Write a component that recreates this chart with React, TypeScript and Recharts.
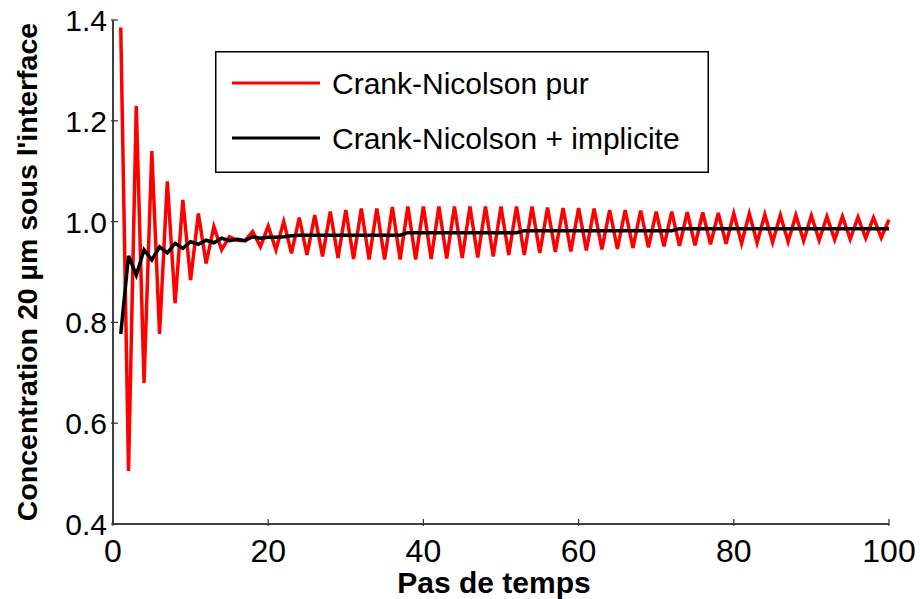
import { Legend, Line, LineChart, XAxis, YAxis } from 'recharts'

// Concentration à 20 µm sous l'interface : Crank-Nicolson pur (oscillant) vs Crank-Nicolson + pas implicites.
const pasDeTemps = Array.from({ length: 100 }, (_, i) => i + 1)

const cnPur = [
  1.385, 0.505, 1.23, 0.68, 1.14, 0.777, 1.08, 0.838, 1.043, 0.884,
  1.016, 0.917, 0.99, 0.944, 0.97, 0.963, 0.962, 0.98, 0.95, 0.991,
  0.944, 1.0, 0.937, 1.008, 0.934, 1.013, 0.931, 1.02, 0.928, 1.023,
  0.926, 1.026, 0.925, 1.026, 0.925, 1.029, 0.925, 1.03, 0.925, 1.03,
  0.926, 1.03, 0.927, 1.03, 0.928, 1.03, 0.929, 1.03, 0.931, 1.03,
  0.934, 1.03, 0.934, 1.03, 0.938, 1.028, 0.94, 1.027, 0.941, 1.027,
  0.943, 1.026, 0.945, 1.023, 0.946, 1.023, 0.948, 1.022, 0.949, 1.02,
  0.951, 1.02, 0.952, 1.019, 0.953, 1.018, 0.955, 1.017, 0.956, 1.016,
  0.957, 1.016, 0.958, 1.014, 0.959, 1.013, 0.96, 1.013, 0.962, 1.012,
  0.963, 1.01, 0.964, 1.01, 0.965, 1.009, 0.967, 1.008, 0.968, 1.004,
]

const cnImplicite = [
  0.777, 0.932, 0.894, 0.944, 0.924, 0.95, 0.938, 0.957, 0.947, 0.96,
  0.955, 0.963, 0.958, 0.967, 0.962, 0.965, 0.962, 0.97, 0.967, 0.969,
  0.969, 0.97, 0.972, 0.973, 0.973, 0.973, 0.973, 0.973, 0.973, 0.973,
  0.973, 0.973, 0.973, 0.973, 0.973, 0.973, 0.973, 0.978, 0.978, 0.978,
  0.978, 0.978, 0.978, 0.978, 0.978, 0.978, 0.978, 0.978, 0.978, 0.978,
  0.978, 0.978, 0.982, 0.982, 0.982, 0.982, 0.982, 0.982, 0.982, 0.982,
  0.982, 0.982, 0.982, 0.982, 0.982, 0.982, 0.982, 0.982, 0.982, 0.982,
  0.982, 0.982, 0.986, 0.986, 0.986, 0.986, 0.986, 0.986, 0.986, 0.986,
  0.986, 0.986, 0.986, 0.986, 0.986, 0.986, 0.986, 0.986, 0.986, 0.986,
  0.986, 0.986, 0.986, 0.986, 0.986, 0.986, 0.986, 0.986, 0.986, 0.986,
]

const xTicks = [0, 20, 40, 60, 80, 100]
const yTicks = [0.4, 0.6, 0.8, 1.0, 1.2, 1.4]

const series = [
  { key: 'pur', name: 'Crank-Nicolson pur', color: '#ff0000' },
  { key: 'impl', name: 'Crank-Nicolson + implicite', color: '#000000' },
]

const data = pasDeTemps.map((t, i) => ({ t, pur: cnPur[i], impl: cnImplicite[i] }))

const FONT = '"Liberation Sans", Arial, sans-serif'
const TICK = '#333'

function BottomTick({ x, y, payload }: any) {
  return (
    <g>
      <line x1={x} x2={x} y1={y} y2={y - 7} stroke={TICK} strokeWidth={1.2} />
      <text x={x} y={y + 36} textAnchor="middle" fontSize={32} fill="#000" fontFamily={FONT}>
        {payload.value}
      </text>
    </g>
  )
}

function TopTick({ x, y }: any) {
  return <line x1={x} x2={x} y1={y} y2={y + 7} stroke={TICK} strokeWidth={1.2} />
}

function LeftTick({ x, y, payload }: any) {
  return (
    <g>
      <line x1={x} x2={x + 7} y1={y} y2={y} stroke={TICK} strokeWidth={1.2} />
      <text x={x - 4} y={y + 11} textAnchor="end" fontSize={30} fill="#000" fontFamily={FONT}>
        {payload.value.toFixed(1)}
      </text>
    </g>
  )
}

function RightTick({ x, y }: any) {
  return <line x1={x} x2={x - 7} y1={y} y2={y} stroke={TICK} strokeWidth={1.2} />
}

function XTitle() {
  return (
    <text x={494} y={593} textAnchor="middle" fontSize={30} fontWeight="bold" fill="#000" fontFamily={FONT}>
      Pas de temps
    </text>
  )
}

function YTitle() {
  return (
    <text
      transform="translate(37,272) rotate(-90)"
      textAnchor="middle"
      fontSize={28.5}
      fontWeight="bold"
      fill="#000"
      fontFamily={FONT}
    >
      Concentration 20 µm sous l'interface
    </text>
  )
}

function LegendBox() {
  const rows = [32, 87]
  return (
    <svg width={494} height={122} style={{ display: 'block' }}>
      <rect x={0.75} y={0.75} width={492.5} height={120.5} fill="#fff" stroke="#000" strokeWidth={1.5} />
      {series.map((s, i) => (
        <g key={s.key}>
          <line x1={17} x2={105} y1={rows[i]} y2={rows[i]} stroke={s.color} strokeWidth={3} />
          <text x={117} y={rows[i] + 11} fontSize={30} fill="#000" fontFamily={FONT}>
            {s.name}
          </text>
        </g>
      ))}
    </svg>
  )
}

export default function App() {
  return (
    <div style={{ position: 'absolute', left: 0, top: 0, fontFamily: FONT, background: '#fff' }}>
      <LineChart width={920} height={599} data={data} margin={{ top: 20, right: 31, left: 0, bottom: 0 }}>
        <XAxis
          dataKey="t"
          type="number"
          domain={[0, 100]}
          ticks={xTicks}
          interval={0}
          height={75}
          tickSize={0}
          tickLine={false}
          axisLine={{ stroke: '#000', strokeWidth: 1.5 }}
          tick={<BottomTick />}
          label={<XTitle />}
        />
        <XAxis
          xAxisId="top"
          orientation="top"
          type="number"
          domain={[0, 100]}
          ticks={xTicks}
          interval={0}
          height={0}
          tickSize={0}
          tickLine={false}
          axisLine={{ stroke: '#000', strokeWidth: 1.5 }}
          tick={<TopTick />}
        />
        <YAxis
          type="number"
          domain={[0.4, 1.4]}
          ticks={yTicks}
          interval={0}
          width={113}
          tickSize={0}
          tickLine={false}
          axisLine={{ stroke: '#000', strokeWidth: 1.5 }}
          tick={<LeftTick />}
          label={<YTitle />}
          allowDataOverflow
        />
        <YAxis
          yAxisId="right"
          orientation="right"
          type="number"
          domain={[0.4, 1.4]}
          ticks={yTicks}
          interval={0}
          width={0}
          tickSize={0}
          tickLine={false}
          axisLine={{ stroke: '#000', strokeWidth: 1.5 }}
          tick={<RightTick />}
        />
        {series.map((s) => (
          <Line
            key={s.key}
            dataKey={s.key}
            name={s.name}
            type="linear"
            stroke={s.color}
            strokeWidth={3.5}
            dot={false}
            activeDot={false}
            isAnimationActive={false}
          />
        ))}
        <Legend
          layout="vertical"
          align="center"
          verticalAlign="middle"
          wrapperStyle={{ left: 215, top: 51, width: 494, height: 122 }}
          content={() => <LegendBox />}
        />
      </LineChart>
    </div>
  )
}
